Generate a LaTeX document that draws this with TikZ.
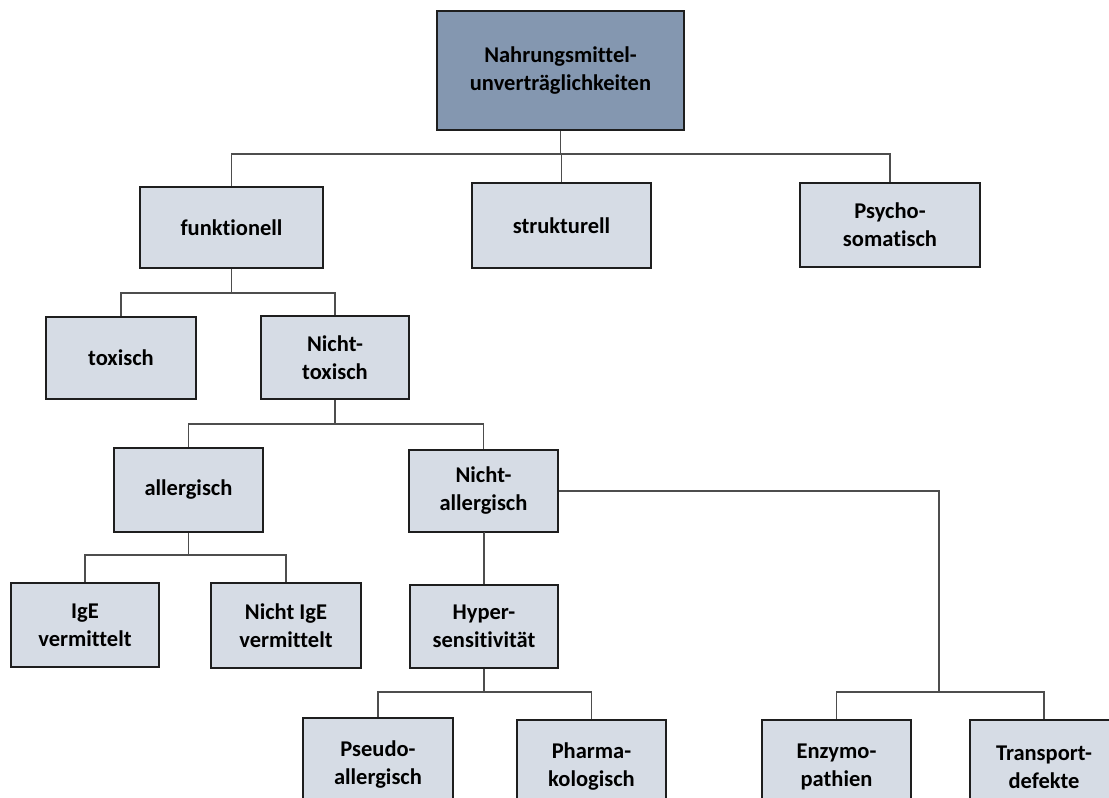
\documentclass[tikz,border=0pt]{standalone}
\usepackage{fontspec}
\setmainfont{Carlito}[Ligatures={CommonOff,ContextualOff}]
\definecolor{rootfill}{HTML}{8497B0}
\definecolor{boxfill}{HTML}{D6DCE5}
\definecolor{boxline}{HTML}{1E1E1E}
\definecolor{conn}{HTML}{4D4D4D}
\tikzset{
  box/.style={draw=boxline, line width=2pt, fill=boxfill, align=center,
    inner sep=0pt, font=\fontsize{22.5}{28}\selectfont\bfseries, text=black},
  rootbox/.style={box, fill=rootfill},
  link/.style={draw=conn, line width=1.3pt}
}
\begin{document}
\begin{tikzpicture}[x=1pt,y=-1pt]
\useasboundingbox (0,0) rectangle (1109,798);
\clip (0,0) rectangle (1109,798);
\fill[white] (0,0) rectangle (1109,798);
% nodes
\node[rootbox, minimum width=247pt, minimum height=119pt] (root) at (560.5,70.5) {Nahrungsmittel-\\unverträglichkeiten};
\node[box, minimum width=183pt, minimum height=81pt] (funk) at (231.5,227.5) {funktionell};
\node[box, minimum width=179pt, minimum height=85pt] (struk) at (561.5,225.5) {strukturell};
\node[box, minimum width=180pt, minimum height=84pt] (psycho) at (890,225) {Psycho-\\somatisch};
\node[box, minimum width=150pt, minimum height=82pt] (tox) at (121,358) {toxisch};
\node[box, minimum width=148pt, minimum height=83pt] (ntox) at (335,357.5) {Nicht-\\toxisch};
\node[box, minimum width=149pt, minimum height=84pt] (allerg) at (188.5,490) {allergisch};
\node[box, minimum width=149pt, minimum height=82pt] (nallerg) at (483.5,491) {Nicht-\\allergisch};
\node[box, minimum width=148pt, minimum height=84pt] (ige) at (85,625) {IgE\\vermittelt};
\node[box, minimum width=150pt, minimum height=85pt] (nige) at (286,625.5) {Nicht IgE\\vermittelt};
\node[box, minimum width=148pt, minimum height=83pt] (hyper) at (484,626.5) {Hyper-\\sensitivität};
\node[box, minimum width=150pt, minimum height=94pt] (pseudo) at (378,765) {Pseudo-\\allergisch};
\node[box, minimum width=149pt, minimum height=94pt] (pharma) at (591.5,767) {Pharma-\\kologisch};
\node[box, minimum width=149pt, minimum height=94pt] (enzymo) at (836.5,767) {Enzymo-\\pathien};
\node[box, minimum width=148pt, minimum height=94pt] (transport) at (1044,767) {Transport-\\defekte};
% junction levels
\coordinate (y1) at (0,154);
\coordinate (y2) at (0,293);
\coordinate (y3) at (0,424);
\coordinate (y4) at (0,555);
\coordinate (y5) at (0,692);
\coordinate (j1) at (root.south |- y1);
\coordinate (j2) at (funk.south |- y2);
\coordinate (j3) at (ntox.south |- y3);
\coordinate (j4) at (allerg.south |- y4);
\coordinate (j5) at (hyper.south |- y5);
\coordinate (c1) at (939,0);
\coordinate (k1) at (nallerg.east -| c1);
\coordinate (j6) at (c1 |- y5);
% connectors
\draw[link] (root.south) -- (j1);
\draw[link] (j1) -| (funk.north);
\draw[link] (j1) -| (struk.north);
\draw[link] (j1) -| (psycho.north);
\draw[link] (funk.south) -- (j2);
\draw[link] (j2) -| (tox.north);
\draw[link] (j2) -| (ntox.north);
\draw[link] (ntox.south) -- (j3);
\draw[link] (j3) -| (allerg.north);
\draw[link] (j3) -| (nallerg.north);
\draw[link] (allerg.south) -- (j4);
\draw[link] (j4) -| (ige.north);
\draw[link] (j4) -| (nige.north);
\draw[link] (nallerg.south) -- (hyper.south |- nallerg.south) -- (hyper.north);
\draw[link] (hyper.south) -- (j5);
\draw[link] (j5) -| (pseudo.north);
\draw[link] (j5) -| (pharma.north);
\draw[link] (nallerg.east) -- (k1) -- (j6);
\draw[link] (j6) -| (enzymo.north);
\draw[link] (j6) -| (transport.north);
\end{tikzpicture}
\end{document}
